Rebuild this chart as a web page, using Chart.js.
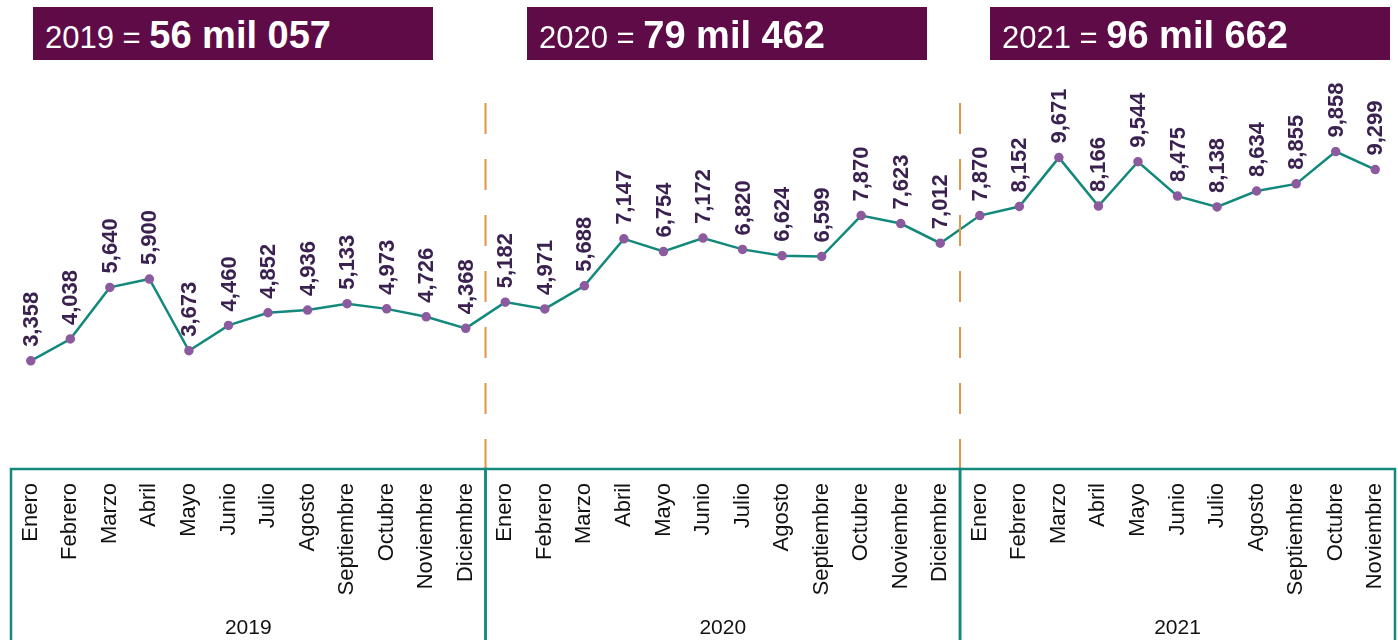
<!DOCTYPE html>
<html>
<head>
<meta charset="utf-8">
<script src="https://cdn.jsdelivr.net/npm/chart.js@4/dist/chart.umd.min.js"></script>
<style>
  body { margin: 0; background: #fff; font-family: "Liberation Sans", Arial, sans-serif; }
  #wrap { position: relative; width: 1398px; height: 640px; }
  .head { position: absolute; top: 7px; width: 400px; height: 53px; background: #5e0b47; color: #fff;
          box-sizing: border-box; padding-left: 12px; line-height: 56px; white-space: nowrap; }
  .head .y { font-size: 31px; }
  .head .n { font-size: 38px; font-weight: bold; }
</style>
</head>
<body>
<div id="wrap">
  <canvas id="myChart" width="1398" height="640"></canvas>
  <div class="head" style="left:33px"><span class="y">2019 = </span><span class="n">56 mil 057</span></div>
  <div class="head" style="left:527px"><span class="y">2020 = </span><span class="n">79 mil 462</span></div>
  <div class="head" style="left:990px"><span class="y">2021 = </span><span class="n">96 mil 662</span></div>
</div>
<script>
const months = ['Enero', 'Febrero', 'Marzo', 'Abril', 'Mayo', 'Junio', 'Julio', 'Agosto', 'Septiembre', 'Octubre', 'Noviembre', 'Diciembre'];
const years = ['2019', '2020', '2021'];
const values2019 = [3358, 4038, 5640, 5900, 3673, 4460, 4852, 4936, 5133, 4973, 4726, 4368];
const values2020 = [5182, 4971, 5688, 7147, 6754, 7172, 6820, 6624, 6599, 7870, 7623, 7012];
const values2021 = [7870, 8152, 9671, 8166, 9544, 8475, 8138, 8634, 8855, 9858, 9299];

const yearValues = [values2019, values2020, values2021];
const labels = [];
const values = [];
yearValues.forEach(function (arr) {
  arr.forEach(function (v, i) {
    labels.push(months[i]);
    values.push(v);
  });
});

// value labels, year boxes and dashed dividers
const extras = {
  id: 'extras',
  afterDatasetsDraw(chart) {
    const ctx = chart.ctx;
    const x = chart.scales.x;
    const area = chart.chartArea;
    const meta = chart.getDatasetMeta(0);

    // group edges
    const edges = [area.left];
    let idx = 0;
    yearValues.forEach(function (arr, g) {
      idx += arr.length;
      if (g < yearValues.length - 1) {
        edges.push((x.getPixelForValue(idx - 1) + x.getPixelForValue(idx)) / 2);
      }
    });
    edges.push(area.right);

    ctx.save();
    // dashed dividers
    ctx.strokeStyle = '#e0954a';
    ctx.lineWidth = 2;
    ctx.setLineDash([31, 25]);
    for (let i = 1; i < edges.length - 1; i++) {
      ctx.beginPath();
      ctx.moveTo(edges[i], 103);
      ctx.lineTo(edges[i], area.bottom);
      ctx.stroke();
    }
    ctx.setLineDash([]);

    // year boxes
    ctx.strokeStyle = '#11897c';
    ctx.lineWidth = 2.5;
    ctx.fillStyle = '#111';
    ctx.font = '21px "Liberation Sans", Arial, sans-serif';
    ctx.textAlign = 'center';
    ctx.textBaseline = 'middle';
    for (let i = 0; i < years.length; i++) {
      ctx.strokeRect(edges[i], area.bottom, edges[i + 1] - edges[i], 200);
      ctx.fillText(years[i], (edges[i] + edges[i + 1]) / 2, 628);
    }

    // data labels
    ctx.fillStyle = '#3a2150';
    ctx.font = 'bold 22px "Liberation Sans", Arial, sans-serif';
    ctx.textAlign = 'left';
    ctx.textBaseline = 'middle';
    meta.data.forEach(function (pt, i) {
      ctx.save();
      ctx.translate(pt.x + 1, pt.y - 14);
      ctx.rotate(-Math.PI / 2);
      ctx.fillText(values[i].toLocaleString('en-US'), 0, 0);
      ctx.restore();
    });
    ctx.restore();
  }
};

const config = {
  type: 'line',
  data: {
    labels: labels,
    datasets: [{
      data: values,
      borderColor: '#13897c',
      borderWidth: 2.5,
      pointBackgroundColor: '#8c5a9e',
      pointBorderColor: '#8c5a9e',
      pointRadius: 3.5,
      tension: 0
    }]
  },
  options: {
    responsive: false,
    animation: false,
    layout: { autoPadding: false, padding: { left: 11, right: 3, top: 147, bottom: 0 } },
    plugins: { legend: { display: false }, tooltip: { enabled: false } },
    scales: {
      x: {
        offset: true,
        grid: { display: false, drawTicks: false },
        border: { display: false },
        afterFit(scale) {
          scale.height = 171;
          scale.paddingLeft = 0;
          scale.paddingRight = 0;
        },
        ticks: {
          autoSkip: false,
          maxRotation: 90,
          minRotation: 90,
          padding: 14,
          color: '#111',
          font: { family: '"Liberation Sans", Arial, sans-serif', size: 22 }
        }
      },
      y: {
        display: false,
        min: 0,
        max: 10000
      }
    }
  },
  plugins: [extras]
};

const myChart = new Chart(document.getElementById('myChart'), config);
</script>
</body>
</html>
